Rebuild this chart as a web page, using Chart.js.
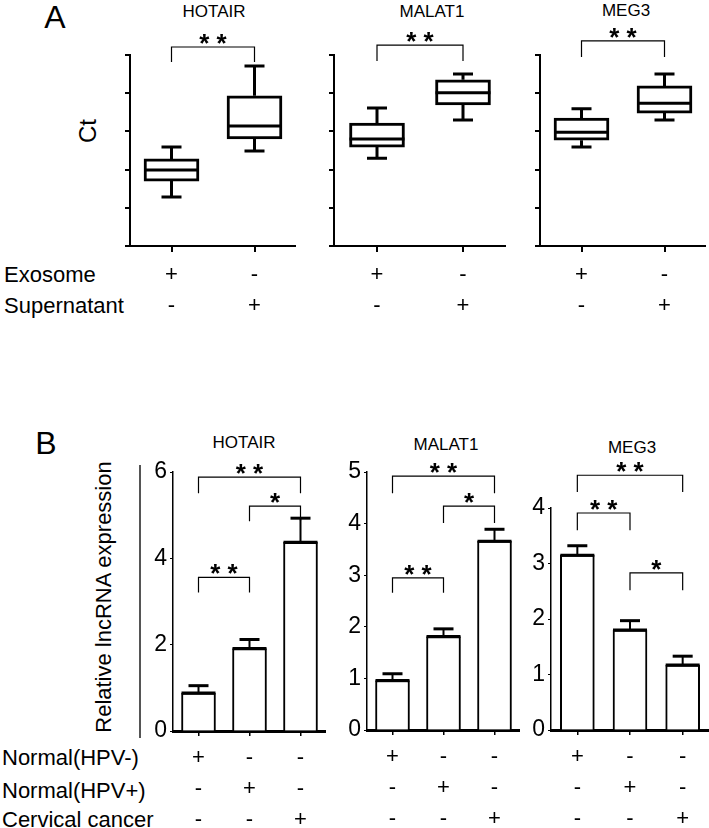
<!DOCTYPE html>
<html>
<head>
<meta charset="utf-8">
<script src="https://cdn.jsdelivr.net/npm/chart.js@4.4.0/dist/chart.umd.min.js"></script>
<style>
body { margin: 0; background: #fff; }
#fig { position: relative; width: 709px; height: 828px; overflow: hidden; font-family: "Liberation Sans", Arial, sans-serif; color: #000; }
canvas { position: absolute; }
.lbl { position: absolute; white-space: nowrap; transform: translate(-50%, -50%); }
.rot { transform: translate(-50%, -50%) rotate(-90deg); }
.row { position: absolute; white-space: nowrap; transform: translateY(-50%); font-size: 22px; }
</style>
</head>
<body>
<div id="fig">
  <div class="lbl" style="left:55px;top:17px;font-size:32px;">A</div>
  <div class="lbl rot" style="left:88px;top:131px;font-size:24px;">Ct</div>
  <div class="lbl" style="left:214px;top:12px;font-size:17px;">HOTAIR</div>
  <div class="lbl" style="left:432px;top:12px;font-size:17px;">MALAT1</div>
  <div class="lbl" style="left:626px;top:11px;font-size:17px;">MEG3</div>
  <div class="row" style="left:4px;top:275px;">Exosome</div>
  <div class="row" style="left:4px;top:306px;">Supernatant</div>

  <div class="lbl" style="left:46px;top:443px;font-size:32px;">B</div>
  <div class="lbl rot" style="left:104px;top:597px;font-size:22px;">Relative lncRNA expression</div>
  <div style="position:absolute;left:139px;top:465px;width:2px;height:273px;background:#555;"></div>
  <div class="lbl" style="left:244px;top:443px;font-size:17px;">HOTAIR</div>
  <div class="lbl" style="left:446px;top:445px;font-size:17px;">MALAT1</div>
  <div class="lbl" style="left:632px;top:448px;font-size:17px;">MEG3</div>
  <div class="row" style="left:2px;top:758px;">Normal(HPV-)</div>
  <div class="row" style="left:2px;top:791px;">Normal(HPV+)</div>
  <div class="row" style="left:2px;top:820px;">Cervical cancer</div>

  <canvas id="a_hotair" width="176" height="326" style="left:120px;top:0px;"></canvas>
  <canvas id="a_malat1" width="182" height="326" style="left:324px;top:0px;"></canvas>
  <canvas id="a_meg3" width="176" height="326" style="left:530px;top:0px;"></canvas>
  <canvas id="b_hotair" width="193" height="398" style="left:133px;top:430px;"></canvas>
  <canvas id="b_malat1" width="193" height="398" style="left:327px;top:430px;"></canvas>
  <canvas id="b_meg3" width="198" height="398" style="left:511px;top:430px;"></canvas>
</div>
<script>
// ----------------------- dados -----------------------//

// Painel A: Ct (min, Q1, mediana, Q3, max) por grupo
var exosomeSigns = ['+', '-'];
var supernatantSigns = ['-', '+'];
var hotairCt = [[1.28, 1.70, 1.99, 2.28, 2.59], [2.49, 2.80, 3.14, 3.93, 4.71]];
var malat1Ct = [[2.30, 2.59, 2.80, 3.22, 3.61], [3.30, 3.69, 4.01, 4.35, 4.50]];
var meg3Ct = [[2.59, 2.77, 2.98, 3.35, 3.59], [3.30, 3.48, 3.74, 4.19, 4.50]];

// Painel B: expressão relativa (média, erro)
var normalNegSigns = ['+', '-', '-'];
var normalPosSigns = ['-', '+', '-'];
var cancerSigns = ['-', '-', '+'];
var hotairMean = [0.88, 1.91, 4.37];
var hotairErr = [0.17, 0.21, 0.56];
var malat1Mean = [0.96, 1.81, 3.66];
var malat1Err = [0.13, 0.15, 0.23];
var meg3Mean = [3.15, 1.80, 1.17];
var meg3Err = [0.17, 0.17, 0.16];

var FONT = '"Liberation Sans", Arial, sans-serif';

// ----------------------- plugins -----------------------//

function boxWhiskers(stats) {
    return {
        id: 'boxWhiskers',
        afterDatasetsDraw: function (chart) {
            var ctx = chart.ctx, y = chart.scales.y;
            var meta = chart.getDatasetMeta(0);
            ctx.save();
            ctx.strokeStyle = '#000';
            ctx.lineWidth = 3;
            meta.data.forEach(function (bar, i) {
                var s = stats[i], cx = bar.x, half = bar.width / 2;
                ctx.beginPath();
                ctx.moveTo(cx - half, y.getPixelForValue(s[2]));
                ctx.lineTo(cx + half, y.getPixelForValue(s[2]));
                ctx.moveTo(cx, y.getPixelForValue(s[3]));
                ctx.lineTo(cx, y.getPixelForValue(s[4]));
                ctx.moveTo(cx, y.getPixelForValue(s[1]));
                ctx.lineTo(cx, y.getPixelForValue(s[0]));
                ctx.moveTo(cx - 10, y.getPixelForValue(s[4]));
                ctx.lineTo(cx + 10, y.getPixelForValue(s[4]));
                ctx.moveTo(cx - 10, y.getPixelForValue(s[0]));
                ctx.lineTo(cx + 10, y.getPixelForValue(s[0]));
                ctx.stroke();
            });
            ctx.restore();
        }
    };
}

function errorBars(err) {
    return {
        id: 'errorBars',
        afterDatasetsDraw: function (chart) {
            var ctx = chart.ctx, y = chart.scales.y;
            var meta = chart.getDatasetMeta(0);
            var vals = chart.data.datasets[0].data;
            ctx.save();
            ctx.strokeStyle = '#000';
            meta.data.forEach(function (bar, i) {
                var top = y.getPixelForValue(vals[i] + err[i]);
                var half = bar.width / 2;
                ctx.lineWidth = 3;
                ctx.beginPath();
                ctx.moveTo(bar.x - half, bar.y);
                ctx.lineTo(bar.x + half, bar.y);
                ctx.stroke();
                ctx.lineWidth = 2;
                ctx.beginPath();
                ctx.moveTo(bar.x, bar.y);
                ctx.lineTo(bar.x, top);
                ctx.stroke();
                ctx.lineWidth = 3;
                ctx.beginPath();
                ctx.moveTo(bar.x - 10, top);
                ctx.lineTo(bar.x + 10, top);
                ctx.stroke();
            });
            ctx.restore();
        }
    };
}

// [de, até, altura, ponta, texto]
function brackets(items) {
    return {
        id: 'brackets',
        afterDraw: function (chart) {
            var ctx = chart.ctx, x = chart.scales.x, y = chart.scales.y;
            ctx.save();
            ctx.strokeStyle = '#000';
            ctx.fillStyle = '#000';
            ctx.lineWidth = 1.2;
            ctx.font = 'bold 26px ' + FONT;
            ctx.textAlign = 'center';
            ctx.textBaseline = 'alphabetic';
            items.forEach(function (b) {
                var x0 = x.getPixelForValue(b[0]), x1 = x.getPixelForValue(b[1]);
                var yt = y.getPixelForValue(b[2]), yb = y.getPixelForValue(b[3]);
                ctx.beginPath();
                ctx.moveTo(x0, yb);
                ctx.lineTo(x0, yt);
                ctx.lineTo(x1, yt);
                ctx.lineTo(x1, yb);
                ctx.stroke();
                ctx.fillText(b[4].split('').join(' '), (x0 + x1) / 2, yt + 5);
            });
            ctx.restore();
        }
    };
}

// ----------------------- Painel A -----------------------//

function boxChart(id, stats, sig) {
    var labels = exosomeSigns.map(function (s, i) { return [s, supernatantSigns[i]]; });
    return new Chart(document.getElementById(id).getContext('2d'), {
        type: 'bar',
        data: {
            labels: labels,
            datasets: [{
                data: stats.map(function (s) { return [s[1], s[3]]; }),
                backgroundColor: '#fff',
                borderColor: '#000',
                borderWidth: 3,
                borderSkipped: false,
                barThickness: 55
            }]
        },
        options: {
            responsive: false,
            animation: false,
            devicePixelRatio: 1,
            layout: { padding: { top: 55, left: 0, right: 0, bottom: 0 } },
            plugins: { legend: { display: false }, tooltip: { enabled: false } },
            scales: {
                x: {
                    afterFit: function (s) { s.height = 80; },
                    grid: { drawOnChartArea: false, offset: false, tickLength: 6, color: '#000', lineWidth: 2 },
                    border: { color: '#000', width: 2 },
                    ticks: { color: '#000', padding: 7, autoSkip: false, maxRotation: 0, font: { family: FONT, size: 22, lineHeight: '31px' } }
                },
                y: {
                    min: 0, max: 5,
                    afterFit: function (s) { s.width = 10; },
                    grid: { drawOnChartArea: false, tickLength: 5, color: '#000', lineWidth: 2 },
                    border: { color: '#000', width: 2 },
                    ticks: { display: false, stepSize: 1 }
                }
            }
        },
        plugins: [boxWhiskers(stats), brackets(sig)]
    });
}

var grafico_a1 = boxChart('a_hotair', hotairCt, [[0, 1, 5.21, 4.82, '**']]);
var grafico_a2 = boxChart('a_malat1', malat1Ct, [[0, 1, 5.26, 4.84, '**']]);
var grafico_a3 = boxChart('a_meg3', meg3Ct, [[0, 1, 5.37, 4.95, '**']]);

// ----------------------- Painel B -----------------------//

function barChart(id, mean, err, yMax, step, padTop, xHeight, sig) {
    var labels = normalNegSigns.map(function (s, i) { return [s, normalPosSigns[i], cancerSigns[i]]; });
    return new Chart(document.getElementById(id).getContext('2d'), {
        type: 'bar',
        data: {
            labels: labels,
            datasets: [{
                data: mean,
                backgroundColor: '#fff',
                borderColor: '#000',
                borderWidth: 2,
                barThickness: 34
            }]
        },
        options: {
            responsive: false,
            animation: false,
            devicePixelRatio: 1,
            layout: { padding: { top: padTop, left: 0, right: 0, bottom: 0 } },
            plugins: { legend: { display: false }, tooltip: { enabled: false } },
            scales: {
                x: {
                    afterFit: function (s) { s.height = xHeight; },
                    grid: { drawOnChartArea: false, offset: false, tickLength: 5, color: '#000', lineWidth: 1.5 },
                    border: { color: '#000', width: 3 },
                    ticks: { color: '#000', padding: 6, autoSkip: false, maxRotation: 0, font: { family: FONT, size: 22, lineHeight: '31px' } }
                },
                y: {
                    min: 0, max: yMax,
                    afterFit: function (s) { s.width = 40; },
                    grid: { drawOnChartArea: false, tickLength: 3, color: '#000', lineWidth: 1 },
                    border: { color: '#000', width: 1.5 },
                    ticks: { stepSize: step, color: '#000', padding: 3, font: { family: FONT, size: 23 } }
                }
            }
        },
        plugins: [errorBars(err), brackets(sig)]
    });
}

var grafico_b1 = barChart('b_hotair', hotairMean, hotairErr, 6, 2, 42, 97,
    [[0, 2, 5.88, 5.51, '**'], [1, 2, 5.21, 4.86, '*'], [0, 1, 3.56, 3.21, '**']]);
var grafico_b2 = barChart('b_malat1', malat1Mean, malat1Err, 5, 1, 42, 98,
    [[0, 2, 4.92, 4.59, '**'], [1, 2, 4.34, 4.01, '*'], [0, 1, 2.95, 2.66, '**']]);
var grafico_b3 = barChart('b_meg3', meg3Mean, meg3Err, 4, 1, 78, 98,
    [[0, 2, 4.59, 4.29, '**'], [0, 1, 3.91, 3.60, '**'], [1, 2, 2.83, 2.52, '*']]);
</script>
</body>
</html>
